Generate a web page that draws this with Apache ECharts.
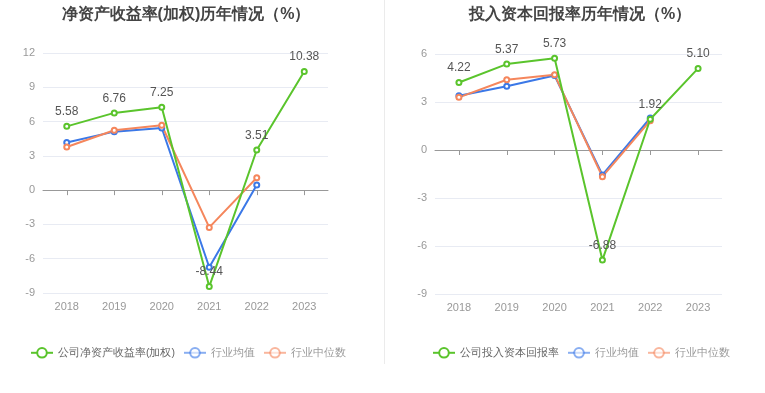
<!DOCTYPE html>
<html><head><meta charset="utf-8">
<script src="https://cdn.jsdelivr.net/npm/echarts@6/dist/echarts.min.js"></script>
<style>html,body{margin:0;padding:0;background:#fff}#c{width:765px;height:393px}</style>
</head><body><div id="c"></div>
<script>
var years = ['2018','2019','2020','2021','2022','2023'];
var roeCompany = [5.58, 6.76, 7.25, -8.44, 3.51, 10.38];
var roeAvg = [4.17, 5.12, 5.44, -6.75, 0.44, null];
var roeMedian = [3.78, 5.24, 5.68, -3.26, 1.08, null];
var roicCompany = [4.22, 5.37, 5.73, -6.88, 1.92, 5.10];
var roicAvg = [3.39, 3.98, 4.65, -1.56, 2.00, null];
var roicMedian = [3.29, 4.39, 4.70, -1.67, 1.83, null];
var leftTicks = {min: -9, max: 12, interval: 3};
var rightTicks = {min: -9, max: 6, interval: 3};

var GREEN = '#5ac42c', BLUE = '#3b78e7', ORANGE = '#f5865c';
var chart = echarts.init(document.getElementById('c'));
function xAxes(gi) {
  return [{
    type: 'category', gridIndex: gi, data: years, position: 'bottom',
    axisLine: {onZero: true, lineStyle: {color: '#999'}},
    axisTick: {show: true, alignWithLabel: true, length: 5, lineStyle: {color: '#999'}},
    axisLabel: {show: false}, splitLine: {show: false}
  }, {
    type: 'category', gridIndex: gi, data: years, position: 'bottom',
    axisLine: {show: false}, axisTick: {show: false},
    axisLabel: {color: '#999', fontSize: 11, margin: 8}
  }];
}
function yAxis(gi, t) {
  return {
    type: 'value', gridIndex: gi, min: t.min, max: t.max, interval: t.interval,
    axisLine: {show: false}, axisTick: {show: false},
    axisLabel: {color: '#999', fontSize: 11, margin: 8},
    splitLine: {lineStyle: {color: '#e8ebf3'}}
  };
}
function line(name, data, color, xi, yi, label) {
  return {
    name: name, type: 'line', data: data, xAxisIndex: xi, yAxisIndex: yi,
    symbol: 'emptyCircle', symbolSize: 5, showSymbol: true,
    lineStyle: {width: 2, color: color}, itemStyle: {color: color, borderWidth: 1.5},
    label: label ? {show: true, position: 'top', color: '#555', fontSize: 12,
      formatter: function (p) { return p.value.toFixed(2); }} : {show: false},
    z: label ? 5 : 3
  };
}
var legendText = {fontSize: 10.5};
function legendData(first) {
  return [
    {name: first, textStyle: {color: '#666'}},
    {name: '行业均值', textStyle: {color: '#999'}, itemStyle: {opacity: 0.6}, lineStyle: {opacity: 0.6}},
    {name: '行业中位数', textStyle: {color: '#999'}, itemStyle: {opacity: 0.6}, lineStyle: {opacity: 0.6}}
  ];
}
chart.setOption({
  animation: false,
  title: [
    {text: '净资产收益率(加权)历年情况（%）', left: 181, top: 2, textAlign: 'center',
      textStyle: {fontSize: 16, fontWeight: 'bold', color: '#444'}},
    {text: '投入资本回报率历年情况（%）', left: 575, top: 2, textAlign: 'center',
      textStyle: {fontSize: 16, fontWeight: 'bold', color: '#444'}}
  ],
  legend: [
    {left: 25, top: 342, itemWidth: 22, itemHeight: 12, itemGap: 8,
      data: legendData('公司净资产收益率(加权)'), textStyle: legendText},
    {left: 427, top: 342, itemWidth: 22, itemHeight: 12, itemGap: 8,
      data: legendData('公司投入资本回报率'), textStyle: legendText}
  ],
  grid: [
    {left: 43, right: 437, top: 53, bottom: 100},
    {left: 435, right: 43, top: 54, bottom: 99}
  ],
  xAxis: xAxes(0).concat(xAxes(1)),
  yAxis: [yAxis(0, leftTicks), yAxis(1, rightTicks)],
  graphic: [{type: 'line', shape: {x1: 384.5, y1: 0, x2: 384.5, y2: 364}, style: {stroke: '#ebebeb', lineWidth: 1}}],
  series: [
    line('行业均值', roeAvg, BLUE, 0, 0, false),
    line('行业中位数', roeMedian, ORANGE, 0, 0, false),
    line('公司净资产收益率(加权)', roeCompany, GREEN, 0, 0, true),
    line('行业均值', roicAvg, BLUE, 2, 1, false),
    line('行业中位数', roicMedian, ORANGE, 2, 1, false),
    line('公司投入资本回报率', roicCompany, GREEN, 2, 1, true)
  ]
});
</script></body></html>
